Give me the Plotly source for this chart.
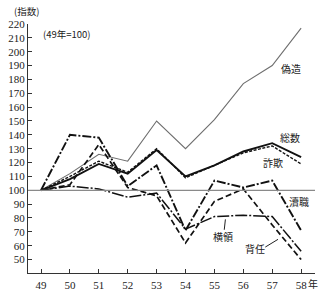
import plotly.graph_objects as go

years = [49, 50, 51, 52, 53, 54, 55, 56, 57, 58]
year_labels = ["49", "50", "51", "52", "53", "54", "55", "56", "57", "58"]
gizo = [100, 112, 126, 121, 150, 130, 151, 177, 190, 217]      # 偽造
sosu = [100, 108, 119, 112, 129, 110, 118, 128, 134, 124]      # 総数
sagi = [100, 110, 121, 113, 130, 109, 118, 127, 132, 119]      # 詐欺
tokushoku = [100, 140, 138, 103, 118, 71, 107, 102, 107, 71]   # 瀆職
oryo = [100, 103, 101, 95, 98, 72, 81, 82, 81, 56]             # 横領
hainin = [100, 104, 133, 102, 96, 62, 92, 101, 75, 50]         # 背任
y_ticks = list(range(50, 221, 10))

serif = "Liberation Serif, DejaVu Serif, serif"
cjk = "Noto Sans CJK JP, sans-serif"

fig = go.Figure()
fig.add_hline(y=100, line=dict(color="#8a8a8a", width=1.2))

def add(y, color, width, dash):
    fig.add_trace(go.Scatter(x=years, y=y, mode="lines",
                             line=dict(color=color, width=width, dash=dash),
                             showlegend=False, hoverinfo="skip"))

add(gizo, "#6e6e6e", 1.1, "solid")
add(oryo, "#111111", 1.5, "12px,2px,2px,2px")
add(hainin, "#111111", 1.7, "6px,3px")
add(tokushoku, "#111111", 1.9, "9px,2px,2px,2px")
add(sagi, "#111111", 1.4, "3px,1.5px")
add(sosu, "#111111", 1.9, "solid")

labels = [
    ("偽造", 57.66, 188),
    ("総数", 57.62, 138),
    ("詐欺", 57.03, 120),
    ("瀆職", 57.93, 92),
    ("横領", 55.31, 66.5),
    ("背任", 56.41, 58),
]
for t, x, y in labels:
    fig.add_annotation(x=x, y=y, text=t, showarrow=False,
                       font=dict(family=cjk, size=10, color="#222"))

fig.add_shape(type="line", x0=55.34, y0=71.5, x1=55.38, y1=79,
              line=dict(color="#222", width=1))
fig.add_shape(type="line", x0=56.76, y0=59, x1=57.2, y1=64.6,
              line=dict(color="#222", width=1))

fig.add_annotation(xref="paper", yref="paper", x=-0.055, y=1.054, xanchor="left",
                   yanchor="middle", text="(指数)", showarrow=False,
                   font=dict(family=cjk, size=9.5, color="#222"))
fig.add_annotation(x=49.0, y=212.5, xanchor="left", text="(49年=100)",
                   showarrow=False, font=dict(family=cjk, size=9.5, color="#222"))
fig.add_annotation(x=58, y=0, yref="paper", xanchor="center", yanchor="top",
                   xshift=12, yshift=-1, text="年", showarrow=False,
                   font=dict(family=cjk, size=10, color="#222"))

fig.update_xaxes(range=[48.55, 58.48], tickvals=years, ticktext=year_labels,
                 showgrid=False, zeroline=False, showline=True,
                 linecolor="#333", linewidth=1, ticks="inside", ticklen=4,
                 tickcolor="#333", ticklabelstandoff=2,
                 tickfont=dict(family=serif, size=11, color="#222"))
fig.update_yaxes(range=[40.3, 220], tickvals=y_ticks,
                 showgrid=False, zeroline=False, showline=True,
                 linecolor="#333", linewidth=1, ticks="inside", ticklen=4,
                 tickcolor="#333", tickfont=dict(family=serif, size=11, color="#222"))

fig.update_layout(width=323, height=299, margin=dict(l=27, r=8, t=24, b=16),
                  plot_bgcolor="white", paper_bgcolor="white")

fig.write_html("out.html")
